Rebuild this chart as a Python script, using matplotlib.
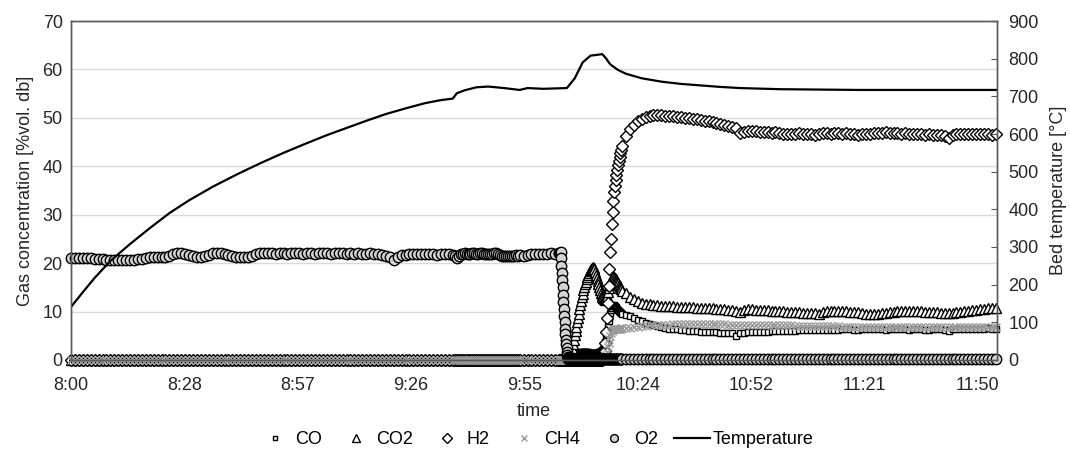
import numpy as np
import matplotlib.pyplot as plt

plt.rcParams['font.family'] = ['Liberation Sans', 'DejaVu Sans']

# sample times in minutes after 8:00 (the logger ran faster during the ignition)
seg_times = [
    np.linspace(0, 97, 98),
    np.linspace(97.5, 113.5, 33),
    np.linspace(114, 124, 11),
    np.linspace(124.1, 127.0, 30),
    np.linspace(127.2, 140.0, 65),
    np.linspace(141, 235, 95),
]

tick_pos = [0, 28.8, 57.6, 86.4, 115.2, 144.0, 172.8, 201.6, 230.4]
tick_labels = ['8:00', '8:28', '8:57', '9:26', '9:55', '10:24', '10:52', '11:21', '11:50']

# all reducing gases read zero before ignition (segments 1-4)
zero_s1 = """0 0 0 0 0 0 0 0 0 0 0 0 0 0 0 0 0 0 0 0
0 0 0 0 0 0 0 0 0 0 0 0 0 0 0 0 0 0 0 0
0 0 0 0 0 0 0 0 0 0 0 0 0 0 0 0 0 0 0 0
0 0 0 0 0 0 0 0 0 0 0 0 0 0 0 0 0 0 0 0
0 0 0 0 0 0 0 0 0 0 0 0 0 0 0 0 0 0"""
zero_s2 = """0 0 0 0 0 0 0 0 0 0 0 0 0 0 0 0 0 0 0 0
0 0 0 0 0 0 0 0 0 0 0 0 0"""
zero_s3 = "0 0 0 0 0 0 0 0 0 0 0"
zero_s4 = """0 0 0 0 0 0 0 0 0 0 0 0 0 0 0 0 0 0 0 0
0 0 0 0 0 0 0 0 0 0"""

o2 = [
    """21.0 21.0 21.0 21.0 21.0 21.0 20.9 20.8 20.8 20.7
    20.7 20.6 20.6 20.6 20.7 20.7 20.7 20.8 20.9 21.1
    21.2 21.3 21.3 21.3 21.3 21.5 21.8 22.0 22.0 21.9
    21.6 21.4 21.3 21.3 21.4 21.7 22.0 22.0 22.0 21.9
    21.6 21.4 21.3 21.3 21.3 21.3 21.5 21.8 22.0 22.0
    22.0 22.0 21.9 22.0 22.0 21.9 22.0 22.0 22.0 21.9
    22.0 22.0 21.9 22.0 22.0 22.0 21.9 22.0 22.0 22.0
    21.9 22.0 21.9 22.0 21.9 21.9 22.0 21.9 21.8 21.6
    21.5 21.3 20.6 21.2 21.6 21.7 21.8 21.9 21.8 21.9
    21.8 21.9 21.8 21.7 21.9 21.8 21.9 21.7""",
    """21.4 21.1 21.5 21.8 21.9 22.0 21.9 21.8 21.9 22.0 22.0
    21.9 21.9 22.0 22.0 21.9 21.8 21.8 21.9 21.9 22.0 22.0
    21.9 21.7 21.5 21.4 21.4 21.5 21.4 21.5 21.5 21.6 21.5""",
    "21.6 21.5 21.7 21.8 21.9 21.9 21.8 21.9 22.0 21.9 22.0",
    """22.0 22.1 22.0 22.2 21.0 19.5 18.0 16.5 15.0 13.5
    12.0 10.5 9.0 7.8 6.5 5.3 4.2 3.2 2.4 1.6
    1.0 0.6 0.4 0.3 0.3 0.3 0.3 0.3 0.3 0.3""",
    """0.3 0.3 0.3 0.3 0.3 0.3 0.3 0.3 0.3 0.3 0.3 0.3 0.3
    0.3 0.3 0.3 0.3 0.3 0.3 0.3 0.3 0.3 0.3 0.3 0.3 0.3
    0.3 0.3 0.3 0.3 0.3 0.3 0.3 0.3 0.3 0.3 0.3 0.3 0.3
    0.3 0.3 0.3 0.3 0.3 0.3 0.3 0.3 0.3 0.3 0.3 0.3 0.3
    0.3 0.3 0.3 0.3 0.3 0.3 0.3 0.3 0.3 0.3 0.3 0.3 0.3""",
    """0.3 0.3 0.3 0.3 0.3 0.3 0.3 0.3 0.3 0.3 0.3 0.3 0.3 0.3 0.3 0.3 0.3 0.3 0.3
    0.3 0.3 0.3 0.3 0.3 0.3 0.3 0.3 0.3 0.3 0.3 0.3 0.3 0.3 0.3 0.3 0.3 0.3 0.3
    0.3 0.3 0.3 0.3 0.3 0.3 0.3 0.3 0.3 0.3 0.3 0.3 0.3 0.3 0.3 0.3 0.3 0.3 0.3
    0.3 0.3 0.3 0.3 0.3 0.3 0.3 0.3 0.3 0.3 0.3 0.3 0.3 0.3 0.3 0.3 0.3 0.3 0.3
    0.3 0.3 0.3 0.3 0.3 0.3 0.3 0.3 0.3 0.3 0.3 0.3 0.3 0.3 0.3 0.3 0.3 0.3 0.3""",
]

co = [
    zero_s1, zero_s2, zero_s3, zero_s4,
    """0.2 0.5 0.8 1.0 1.2 1.3 1.4 1.4 1.5 1.5 1.5 1.6 1.6 1.6 1.6
    1.6 1.6 1.6 1.6 1.6 1.6 1.6 1.5 1.5 1.5 1.5 1.5 1.5 1.5 1.5
    1.5 1.5 1.5 1.5 1.6 1.6 1.7 1.8 1.9 2.0 2.2 2.5 3.0 3.8 4.8
    5.9 7.0 8.0 8.9 9.7 10.3 10.8 11.1 11.3 11.3 11.2 11.0 10.8 10.6 10.4
    10.2 10.0 9.9 9.7 9.6""",
    """9.3 9.0 8.6 8.3 8.0 7.7 7.4 7.2 7.0 6.8
    6.6 6.5 6.4 6.3 6.2 6.1 6.0 5.9 5.9 5.8
    5.8 5.7 5.7 5.7 5.6 5.6 5.6 5.6 5.0 5.6
    5.6 5.7 5.7 5.7 5.8 5.8 5.8 5.9 5.9 5.9
    6.0 6.0 6.0 6.0 6.1 6.1 6.1 6.1 6.1 6.2
    6.2 6.2 6.2 6.2 6.2 6.3 6.3 6.3 6.2 6.2
    6.3 6.3 6.3 6.4 6.3 6.3 6.2 6.3 6.3 6.3
    6.3 6.3 6.2 6.3 6.3 6.3 6.2 6.2 6.3 6.3
    6.3 6.2 5.9 6.4 6.5 6.5 6.5 6.5 6.5 6.5
    6.5 6.5 6.6 6.5 6.5""",
]

co2 = [
    zero_s1, zero_s2, zero_s3,
    """0 0 0 0 0 0 0 0 0 0 0 0 0 0 0 0 0 0 0 0
    0 0 0 0 0 0 0 0 0.3 0.8""",
    """1.5 2.4 3.3 4.2 5.1 6.0 6.9 7.8 8.7 9.6
    10.5 11.4 12.2 13.0 13.7 14.4 15.0 15.6 16.2 16.7
    17.2 17.6 18.0 18.3 18.6 18.8 19.0 19.1 19.0 18.7
    18.2 17.6 17.0 16.3 15.6 15.0 14.4 13.9 13.4 13.0
    12.7 12.5 12.4 12.5 12.8 13.3 14.0 14.8 15.5 16.1
    16.6 17.0 17.2 17.3 17.2 17.0 16.7 16.4 16.1 15.8
    15.5 15.2 14.9 14.6 14.3""",
    """13.8 13.1 12.5 12.1 11.8 11.6 11.5 11.4 11.3 11.2
    11.2 11.1 11.1 11.0 11.0 11.0 10.9 10.9 10.8 10.8
    10.8 10.7 10.7 10.6 10.5 10.5 10.4 10.3 10.2 9.9
    10.4 10.5 10.5 10.4 10.4 10.3 10.3 10.2 10.2 10.1
    10.1 10.0 10.0 9.9 9.9 9.8 9.8 9.7 9.7 9.4
    10.0 10.1 10.2 10.2 10.2 10.1 10.1 10.0 10.0 9.9
    9.8 9.6 9.5 9.5 9.6 9.7 9.8 9.9 10.0 10.1
    10.1 10.2 10.2 10.2 10.1 10.1 10.0 10.0 9.9 9.9
    9.8 9.8 9.7 9.8 9.9 10.0 10.1 10.2 10.3 10.4
    10.5 10.6 10.7 10.8 10.8""",
]

h2 = [
    zero_s1, zero_s2, zero_s3, zero_s4,
    """0 0 0 0 0 0 0 0 0 0 0 0 0 0 0 0 0 0 0 0
    0 0 0 0 0 0 0 0 0 0 0 0 0 0 0 0 0 0 0 0
    0.3 0.8 1.8 3.5 5.8 8.6 11.8 15.2 18.8 22.4
    25.0 28.0 30.6 32.8 34.6 36.0 37.2 38.3 39.3 40.2
    41.1 41.9 42.7 43.4 44.1""",
    """46.2 47.6 48.6 49.3 49.8 50.1 50.3 50.5 50.5 50.5
    50.4 50.4 50.3 50.2 50.1 50.0 49.9 49.8 49.7 49.6
    49.4 49.3 49.1 48.9 48.8 48.6 48.4 48.2 48.0 46.8
    47.1 47.2 47.3 47.2 47.1 47.0 47.0 46.9 47.0 46.8
    46.7 46.6 46.7 46.7 46.8 46.7 46.6 46.6 46.5 46.7
    46.8 46.8 46.7 46.8 46.8 46.7 46.8 46.7 46.6 46.5
    46.6 46.7 46.6 46.8 46.9 46.9 47.0 46.9 46.8 46.8
    46.7 46.8 46.7 46.6 46.7 46.6 46.5 46.6 46.5 46.4
    46.4 46.3 45.8 46.4 46.6 46.7 46.6 46.7 46.6 46.6
    46.7 46.6 46.6 46.5 46.6""",
]

ch4 = [
    zero_s1, zero_s2, zero_s3, zero_s4,
    """0 0 0 0 0 0 0 0 0 0 0 0 0 0 0 0 0 0 0 0
    0 0 0 0 0 0 0 0 0 0 0 0 0 0 0 0 0 0 0 0
    0 0 0.2 0.5 1.0 1.7 2.6 3.5 4.3 5.0
    5.5 5.9 6.1 6.3 6.4 6.4 6.5 6.5 6.5 6.5
    6.5 6.5 6.5 6.6 6.6""",
    """6.6 6.7 6.8 6.9 7.0 7.1 7.2 7.2 7.3 7.3
    7.3 7.3 7.4 7.4 7.4 7.4 7.4 7.4 7.4 7.4
    7.4 7.4 7.4 7.4 7.4 7.4 7.3 7.3 7.3 7.3
    7.3 7.3 7.3 7.3 7.3 7.3 7.3 7.3 7.2 7.2
    7.2 7.2 7.2 7.1 7.1 7.1 7.1 7.1 7.0 7.0
    7.0 7.0 7.0 7.0 7.0 6.9 6.9 6.9 6.9 6.9
    6.9 6.9 6.9 6.9 6.9 6.9 6.9 6.9 6.9 6.9
    6.9 6.9 6.9 6.9 6.9 6.9 6.9 6.9 6.9 6.9
    6.9 6.9 6.9 6.9 6.9 6.9 6.9 6.9 6.9 6.9
    6.9 6.9 6.9 6.9 6.9""",
]

# bed temperature, minutes after 8:00 and degC
temp_time = [0, 3, 6, 10, 15, 20, 25, 30, 36, 42, 48, 54, 60, 65, 70, 75, 80, 85, 90,
             94, 97, 98, 100, 103, 106, 110, 114, 116, 120, 126, 128, 130, 132, 135,
             136, 137, 139, 141, 145, 150, 155, 160, 165, 170, 180, 200, 220, 235]
temp_val = [141, 180, 218, 263, 308, 350, 390, 424, 460, 492, 522, 550, 576, 597, 616,
            635, 653, 668, 682, 690, 694, 708, 716, 724, 726, 722, 717, 722, 720, 722,
            748, 790, 808, 812, 800, 785, 770, 760, 748, 739, 733, 729, 725, 722, 719,
            717, 717, 717]


def parse(name, segments):
    vals = []
    for i, (seg, t) in enumerate(zip(segments, seg_times)):
        v = [float(x) for x in seg.split()]
        if len(v) != len(t):
            raise ValueError(f"{name} segment {i}: {len(v)} values, {len(t)} times")
        vals += v
    return np.array(vals)


time_min = np.concatenate(seg_times)
series = [
    ('CO', parse('CO', co), dict(marker='s', ms=4.5, mfc='white', mec='black')),
    ('CO2', parse('CO2', co2), dict(marker='^', ms=7, mfc='white', mec='black')),
    ('H2', parse('H2', h2), dict(marker='D', ms=6.3, mfc='white', mec='black')),
    ('CH4', parse('CH4', ch4), dict(marker='x', ms=5.5, mec='#9a9a9a')),
    ('O2', parse('O2', o2), dict(marker='o', ms=7.5, mfc='#d4d4d4', mec='black')),
]

fig = plt.figure(figsize=(10.7, 4.51), dpi=100)
ax = fig.add_axes([0.0664, 0.2018, 0.8654, 0.7516])

handles = []
for label, vals, style in series:
    h, = ax.plot(time_min, vals, ls='none', mew=1.0, clip_on=False, label=label, **style)
    handles.append(h)

ax2 = ax.twinx()
ht, = ax2.plot(temp_time, temp_val, color='black', lw=1.6, label='Temperature')
handles.append(ht)

ax.set_xlim(0, 235.3)
ax.set_ylim(0, 70)
ax2.set_ylim(0, 900)
ax.set_yticks(np.arange(0, 71, 10))
ax2.set_yticks(np.arange(0, 901, 100))
ax.set_xticks(tick_pos)
ax.set_xticklabels(tick_labels)

ax.yaxis.grid(True, color='#d9d9d9', lw=1)
ax.set_axisbelow(True)
txt = '#262626'
ax.tick_params(axis='y', length=0, labelsize=13, labelcolor=txt, pad=6)
ax.tick_params(axis='x', length=0, labelsize=13, labelcolor=txt, pad=12)
ax2.tick_params(axis='y', direction='in', length=4, color='#595959', labelsize=13,
                labelcolor=txt, pad=8)
for a in (ax, ax2):
    for s in a.spines.values():
        s.set_color('#595959')
        s.set_linewidth(1)

ax.set_xlabel('time', fontsize=13, color=txt, labelpad=7)
ax.set_ylabel('Gas concentration [%vol. db]', fontsize=13, color=txt, labelpad=6)
ax2.set_ylabel('Bed temperature [°C]', fontsize=13, color=txt, labelpad=8)

fig.legend(handles, [h.get_label() for h in handles], loc='lower center',
           bbox_to_anchor=(0.5, -0.03), ncol=6, frameon=False, fontsize=13,
           handlelength=2.0, handletextpad=0.1, columnspacing=0.9, markerscale=0.75)

fig.savefig('out.png', dpi=100)
